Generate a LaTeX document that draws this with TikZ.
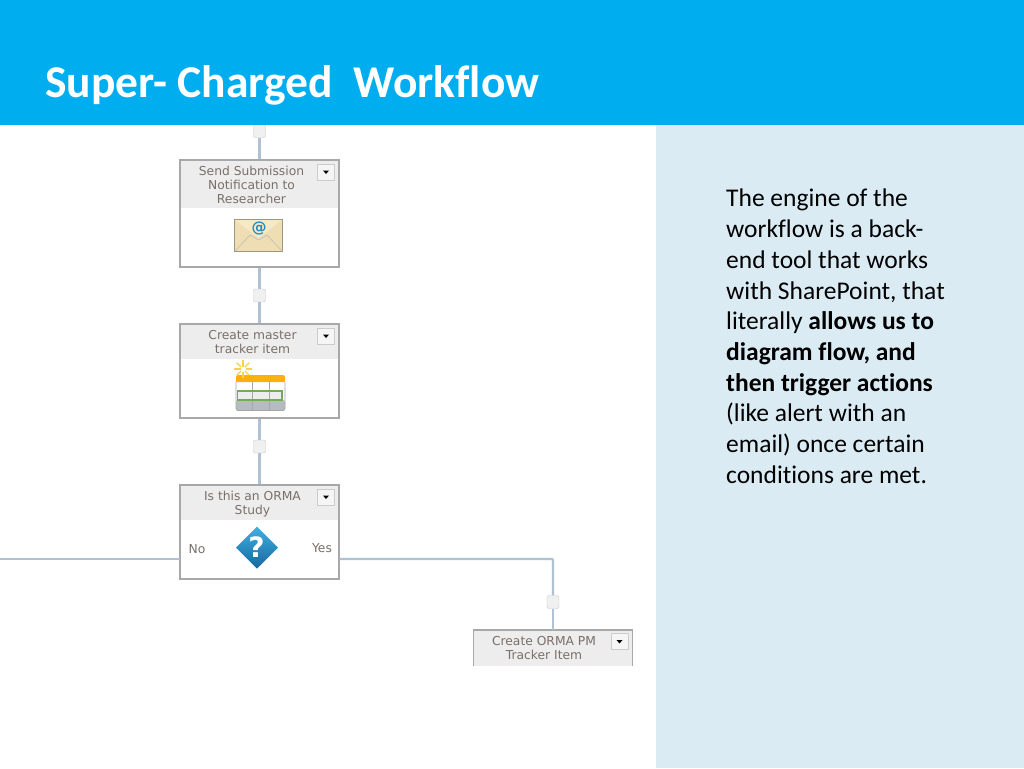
\documentclass[tikz,border=0pt]{standalone}
\usepackage{xcolor}
\usepackage{fontspec}
\setmainfont{Carlito}[Ligatures=NoCommon]
\newfontfamily\flowfont{DejaVu Sans}
\usepackage{tikz}
\definecolor{bannerBlue}{HTML}{00AEEF}
\definecolor{panelBlue}{HTML}{DAEBF4}
\definecolor{lineBlue}{HTML}{AFC1D3}
\definecolor{boxGrey}{HTML}{A6A8AA}
\definecolor{headGrey}{HTML}{EDEDED}
\definecolor{labelGrey}{HTML}{7A6F69}
\definecolor{mailFill}{HTML}{EFDDB4}
\definecolor{mailFlap}{HTML}{F6E9C6}
\definecolor{mailEdge}{HTML}{A0977F}
\definecolor{mailBlue}{HTML}{1F8CC4}
\definecolor{askTop}{HTML}{3FB0E3}
\definecolor{askBottom}{HTML}{15689F}
\definecolor{sunYellow}{HTML}{F8D24A}
\definecolor{tableOrange}{HTML}{FBB00F}
\definecolor{tableGreen}{HTML}{6FAE55}
\definecolor{tableGrey}{HTML}{B4BCC0}

\begin{document}
\begin{tikzpicture}[
            x=1pt, y=-1pt,
            flowbox/.style={
                draw=boxGrey,
                line width=1.3pt,
                minimum width=159pt,
                inner sep=0pt
            },
            headbox/.style={
                fill=headGrey,
                minimum width=159pt,
                inner sep=0pt,
                anchor=north
            },
            flowlabel/.style={
                font=\flowfont\fontsize{12.3}{14}\selectfont,
                text=labelGrey,
                align=center,
                inner sep=0pt
            },
            menubox/.style={
                draw=black!20,
                fill=black!4,
                minimum width=17pt,
                minimum height=16pt,
                inner sep=0pt
            },
            jointbox/.style={
                draw=black!22,
                fill=black!6,
                rounded corners=2pt,
                minimum width=12pt,
                minimum height=13pt,
                inner sep=0pt
            },
            flowline/.style={
                line width=2.2pt,
                draw=lineBlue
            }
        ]
        \useasboundingbox (0,0) rectangle (1024,768);
        \fill[white] (0,0) rectangle (1024,768);

        % --- Headers ---
        \node[headbox, minimum height=48pt] (sendhead) at (259.5,160) {};
        \node[headbox, minimum height=35pt] (masterhead) at (259.5,324) {};
        \node[headbox, minimum height=35pt] (ormahead) at (259.5,485) {};
        \node[headbox, minimum height=36pt] (pmbox) at (553,630) {};

        % --- Boxes ---
        \node[flowbox, minimum height=107pt] (send) at (259.5,213.5) {};
        \node[flowbox, minimum height=94pt] (master) at (259.5,371) {};
        \node[flowbox, minimum height=94pt] (orma) at (259.5,532) {};
        \draw[draw=boxGrey, line width=1.3pt] (pmbox.south west) |- (pmbox.north east) -- (pmbox.south east);

        % --- Connectors ---
        \node[jointbox] (jointtop) at (259.5,131) {};
        \node[jointbox] (jointa) at (259.5,295.5) {};
        \node[jointbox] (jointb) at (259.5,446.5) {};
        \node[jointbox] (jointc) at (553,602) {};

        \coordinate (leftend) at (0,559);
        \coordinate (ormaout) at (339.5,559);
        \coordinate (ormain) at (180,559);

        \draw[flowline] (jointtop) -- (send.north);
        \draw[flowline] (send.south) -- (jointa);
        \draw[flowline] (jointa) -- (master.north);
        \draw[flowline] (master.south) -- (jointb);
        \draw[flowline] (jointb) -- (orma.north);
        \draw[flowline] (ormain) -- (leftend);
        \draw[flowline, rounded corners=1pt] (ormaout) -| (jointc);
        \draw[flowline] (jointc) -- (pmbox.north);

        % --- Labels ---
        \node[flowlabel] (sendlabel) at (251.5,185)
            {Send Submission\\Notification to\\Researcher};
        \node[flowlabel] (masterlabel) at (252.5,342)
            {Create master\\tracker item};
        \node[flowlabel] (ormalabel) at (252.5,504)
            {Is this an ORMA\\Study};
        \node[flowlabel] (pmlabel) at (544,648.5)
            {Create ORMA PM\\Tracker Item};
        \node[flowlabel] (nolabel) at (197,549) {No};
        \node[flowlabel] (yeslabel) at (322,548.5) {Yes};

        % --- Menu buttons ---
        \node[menubox] (sendmenu) at (326,172) {};
        \node[menubox] (mastermenu) at (326,336) {};
        \node[menubox] (ormamenu) at (326,497) {};
        \node[menubox] (pmmenu) at (619.5,641.5) {};
        \foreach \m in {sendmenu, mastermenu, ormamenu, pmmenu} {
            \fill (\m.center) ++(-3,-1.5) -- ++(6,0) -- ++(-3,3.5) -- cycle;
        }

        % --- Envelope icon ---
        \draw[draw=mailEdge, fill=mailFill, line width=1.2pt]
            (234.5,219.5) rectangle (282.5,251.5);
        \fill[mailFlap] (235,220) -- (258.5,238) -- (282,220) -- cycle;
        \draw[mailEdge!60, line width=0.7pt] (235,251) -- (250,235) -- (258.5,240) -- (267,235) -- (282,251);
        \node[font=\flowfont\bfseries\fontsize{15}{15}\selectfont, text=mailBlue, inner sep=0pt]
            (maillabel) at (259,228.5) {@};

        % --- Table icon ---
        \fill[white] (236,380) rectangle (285,400);
        \fill[tableGrey, rounded corners=2pt] (236,400) -- (236,410.5) -- (285,410.5) -- (285,400) -- cycle;
        \fill[tableOrange, rounded corners=2pt] (236,375) rectangle (285,382);
        \fill[tableOrange] (236,379) rectangle (285,382);
        \draw[black!35, line width=0.7pt, rounded corners=2pt] (236,382) -- (236,410.5) -- (285,410.5) -- (285,382);
        \fill[black!7] (237,391) rectangle (282,400);
        \draw[black!35, line width=0.7pt] (252.5,382) -- (252.5,410) (269,382) -- (269,410);
        \draw[tableGreen, line width=1.3pt] (237.5,391) rectangle (282,400);
        \foreach \a in {0,45,...,315} {
            \draw[sunYellow, line width=1.3pt] (243,369) ++(\a:2.5) -- ++(\a:6.5);
        }

        % --- Decision icon ---
        \shade[top color=askTop, bottom color=askBottom] (257,526.5) -- (278,547.5) -- (257,568.5) -- (236,547.5) -- cycle;
        \node[font=\flowfont\bfseries\fontsize{28}{28}\selectfont, text=white, inner sep=0pt]
            (asklabel) at (256.5,547) {?};

        % --- Banner and side panel ---
        \node[fill=bannerBlue, minimum width=1024pt, minimum height=124.5pt, inner sep=0pt, anchor=north west]
            (banner) at (0,0) {};
        \node[fill=panelBlue, minimum width=368pt, minimum height=643.5pt, inner sep=0pt, anchor=north west]
            (panel) at (656,124.5) {};

        \node[font=\bfseries\fontsize{45.5}{45}\selectfont, text=white, anchor=base west, inner sep=0pt]
            (title) at (45,97) {Super- Charged\ \ Workflow};

        \node[font=\fontsize{25.5}{30.7}\selectfont, text=black, align=left, anchor=north west, inner sep=0pt]
            (enginetext) at (726,189)
            {The engine of the\\workflow is a back-\\end tool that works\\with SharePoint, that\\literally \textbf{allows us to}\\\textbf{diagram flow, and}\\\textbf{then trigger actions}\\(like alert with an\\email) once certain\\conditions are met.};

        \end{tikzpicture}
\end{document}
